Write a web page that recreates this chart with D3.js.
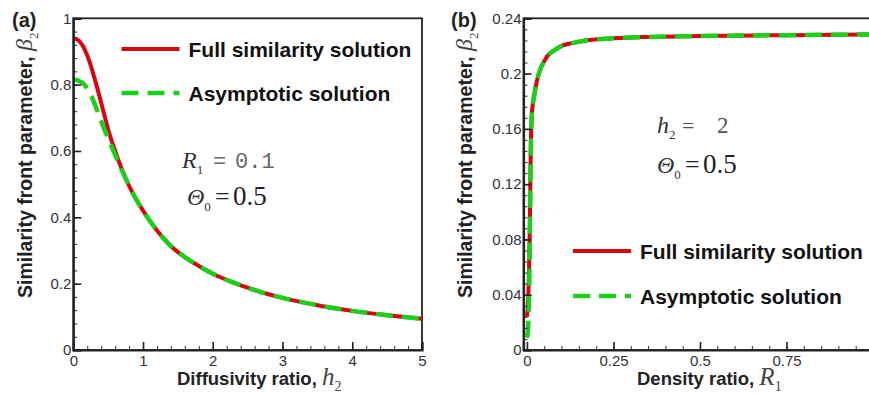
<!DOCTYPE html>
<html><head><meta charset="utf-8">
<script src="https://cdn.jsdelivr.net/npm/d3@7"></script>
<style>html,body{margin:0;padding:0;background:#fff;}svg{display:block;}</style>
</head><body>
<svg id="chart" width="869" height="395"></svg>
<script>
// ---------- data ----------
// Panel (a): beta2 vs diffusivity ratio h2 (R1 = 0.1, Theta0 = 0.5)
const h2Values = [0, 0.05, 0.1, 0.15, 0.2, 0.25, 0.3, 0.35, 0.4, 0.45, 0.5, 0.6, 0.7, 0.8, 0.9, 1.0, 1.2, 1.4, 1.6, 1.8, 2.0, 2.25, 2.5, 2.75, 3.0, 3.5, 4.0, 4.5, 5.0];
const fullA = [0.940, 0.937, 0.928, 0.912, 0.888, 0.858, 0.822, 0.785, 0.745, 0.705, 0.665, 0.600, 0.543, 0.495, 0.455, 0.420, 0.360, 0.313, 0.280, 0.253, 0.230, 0.207, 0.188, 0.171, 0.157, 0.135, 0.118, 0.105, 0.094];
const asymA = [0.815, 0.814, 0.809, 0.802, 0.788, 0.770, 0.745, 0.718, 0.690, 0.663, 0.638, 0.588, 0.540, 0.495, 0.455, 0.420, 0.360, 0.313, 0.280, 0.253, 0.230, 0.207, 0.188, 0.171, 0.157, 0.135, 0.118, 0.105, 0.094];
// Panel (b): beta2 vs density ratio R1 (h2 = 2, Theta0 = 0.5)
const r1Values = [0, 0.002, 0.004, 0.006, 0.008, 0.009, 0.010, 0.011, 0.012, 0.014, 0.017, 0.020, 0.025, 0.030, 0.040, 0.050, 0.060, 0.080, 0.100, 0.130, 0.170, 0.250, 0.350, 0.500, 0.750, 1.000];
const fullB = [0.024, 0.030, 0.040, 0.058, 0.085, 0.105, 0.125, 0.145, 0.158, 0.170, 0.178, 0.183, 0.190, 0.196, 0.204, 0.209, 0.213, 0.217, 0.220, 0.222, 0.224, 0.2255, 0.2265, 0.2272, 0.2278, 0.2283];
const asymB = [0.009, 0.012, 0.020, 0.038, 0.070, 0.095, 0.120, 0.142, 0.156, 0.170, 0.178, 0.183, 0.190, 0.196, 0.204, 0.209, 0.213, 0.217, 0.220, 0.222, 0.224, 0.2255, 0.2265, 0.2272, 0.2278, 0.2283];
// ticks
const xTicksA = [0, 1, 2, 3, 4, 5];
const yTicksA = [0, 0.2, 0.4, 0.6, 0.8, 1];
const xTicksB = [0, 0.25, 0.5, 0.75];
const yTicksB = [0, 0.04, 0.08, 0.12, 0.16, 0.2, 0.24];
const legendLabels = ["Full similarity solution", "Asymptotic solution"];

const RED = "#d8070f", GREEN = "#1bd01b";
const svg = d3.select("#chart");
const defs = svg.append("defs");

function minorRange(a, b, step) {
  const out = [];
  const n = Math.round((b - a) / step);
  for (let i = 0; i <= n; i++) out.push(+(a + i * step).toFixed(6));
  return out;
}

function panel(opt) {
  const g = svg.append("g");
  const x = d3.scaleLinear().domain(opt.xDomain).range(opt.xRange);
  const y = d3.scaleLinear().domain(opt.yDomain).range([350, 18.3]);
  const x0 = opt.xRange[0], x1 = opt.xRange[1], yTop = 18.3, yBot = 350;

  defs.append("clipPath").attr("id", "clip" + opt.id)
    .append("rect").attr("x", x0).attr("y", yTop).attr("width", x1 - x0).attr("height", yBot - yTop);

  g.append("rect").attr("x", x0).attr("y", yTop).attr("width", x1 - x0).attr("height", yBot - yTop)
    .attr("fill", "none").attr("stroke", "#222").attr("stroke-width", 1.8);

  const line = d3.line().x(d => x(d[0])).y(d => y(d[1])).curve(d3.curveMonotoneX);
  const cg = g.append("g").attr("clip-path", "url(#clip" + opt.id + ")");
  cg.append("path").datum(opt.xs.map((v, i) => [v, opt.full[i]]))
    .attr("d", line).attr("fill", "none").attr("stroke", RED).attr("stroke-width", 4);
  cg.append("path").datum(opt.xs.map((v, i) => [v, opt.asym[i]]))
    .attr("d", line).attr("fill", "none").attr("stroke", GREEN).attr("stroke-width", 4.5)
    .attr("stroke-dasharray", "17,9");

  const fontTick = "15px 'Liberation Sans', Arial, sans-serif";
  g.append("g").attr("transform", `translate(0,${yBot})`)
    .call(d3.axisBottom(x).tickValues(opt.xMinor).tickSize(-4).tickFormat(""))
    .call(s => s.select(".domain").remove())
    .selectAll("line").attr("stroke", "#333").attr("stroke-width", 1);
  g.append("g").attr("transform", `translate(${x0},0)`)
    .call(d3.axisLeft(y).tickValues(opt.yMinor).tickSize(-4).tickFormat(""))
    .call(s => s.select(".domain").remove())
    .selectAll("line").attr("stroke", "#333").attr("stroke-width", 1);

  const xa = g.append("g").attr("transform", `translate(0,${yBot})`)
    .call(d3.axisBottom(x).tickValues(opt.xTicks).tickSize(-8).tickPadding(5).tickFormat(d3.format("")));
  const ya = g.append("g").attr("transform", `translate(${x0},0)`)
    .call(d3.axisLeft(y).tickValues(opt.yTicks).tickSize(-8).tickPadding(2).tickFormat(d3.format("")));
  [xa, ya].forEach(a => {
    a.select(".domain").attr("stroke", "#222").attr("stroke-width", 2.2);
    a.selectAll(".tick line").attr("stroke", "#222").attr("stroke-width", 1.6);
    a.selectAll("text").style("font", fontTick).attr("fill", "#333");
  });
  return {g, x, y};
}

panel({id: "A", xDomain: [0, 5], xRange: [73.3, 422], yDomain: [0, 1],
  xs: h2Values, full: fullA, asym: asymA, xTicks: xTicksA, yTicks: yTicksA,
  xMinor: minorRange(0, 5, 0.2), yMinor: minorRange(0, 1, 0.04)});
panel({id: "B", xDomain: [-0.01, 1], xRange: [523.5, 873], yDomain: [0, 0.24],
  xs: r1Values, full: fullB, asym: asymB, xTicks: xTicksB, yTicks: yTicksB,
  xMinor: minorRange(0, 1, 0.05), yMinor: minorRange(0, 0.24, 0.008)});

// ---------- labels ----------
const bold = "'Liberation Sans', Arial, sans-serif";
const serif = "'Liberation Serif', 'Times New Roman', serif";
const mono = "'Liberation Mono', 'Courier New', monospace";

svg.append("text").attr("x", 12).attr("y", 27).text("(a)")
  .style("font", `bold 20px ${bold}`).attr("fill", "#222");
svg.append("text").attr("x", 451).attr("y", 27).text("(b)")
  .style("font", `bold 20px ${bold}`).attr("fill", "#222");

function yTitle(xb) {
  const t = svg.append("text").attr("transform", `translate(${xb},298) rotate(-90)`)
    .style("font", `bold 19.5px ${bold}`).attr("fill", "#222");
  t.append("tspan").text("Similarity front parameter, ");
  t.append("tspan").text("β").style("font", `italic 24px ${serif}`).attr("fill", "#444");
  t.append("tspan").text("2").style("font", `13px ${serif}`).attr("dy", 6).attr("fill", "#444");
}
yTitle(32); yTitle(472);

function xTitle(x0, label, sym, sub) {
  const t = svg.append("text").attr("x", x0).attr("y", 385)
    .style("font", `bold 18.5px ${bold}`).attr("fill", "#222");
  t.append("tspan").text(label);
  t.append("tspan").text(sym).style("font", `italic 25px ${serif}`).attr("fill", "#444");
  t.append("tspan").text(sub).style("font", `14px ${serif}`).attr("dy", 6).attr("fill", "#444");
}
xTitle(177, "Diffusivity ratio, ", "h", "2");
xTitle(637, "Density ratio, ", "R", "1");

function legend(lx, ly1, ly2) {
  const items = [{c: RED, dash: null, y: ly1, w: 4}, {c: GREEN, dash: "17,9", y: ly2, w: 4.5}];
  items.forEach((it, i) => {
    svg.append("line").attr("x1", lx).attr("x2", lx + 58).attr("y1", it.y).attr("y2", it.y)
      .attr("stroke", it.c).attr("stroke-width", it.w).attr("stroke-dasharray", it.dash);
    svg.append("text").attr("x", lx + 67).attr("y", it.y + 7.5).text(legendLabels[i])
      .style("font", `bold 21px ${bold}`).attr("fill", "#111");
  });
}
legend(121.5, 49, 93);
legend(573, 251, 296);

// parameter annotations: symbol, subscript, "=" and value placed separately
function paramLine(x, y, sym, sub, size, eqX, eqFont, valX, val, valFont, valColor) {
  const t = svg.append("text").attr("x", x).attr("y", y).attr("fill", "#333");
  t.append("tspan").text(sym).style("font", `italic ${size}px ${serif}`);
  t.append("tspan").text(sub).style("font", `${Math.round(size * 0.56)}px ${serif}`).attr("dy", 6);
  t.append("tspan").text("=").attr("x", eqX).attr("dy", -6).style("font", eqFont).attr("fill", valColor);
  t.append("tspan").text(val).attr("x", valX).style("font", valFont).attr("fill", valColor);
}
paramLine(182, 168, "R", "1", 24, 213, `22px ${mono}`, 235, "0.1", `22px ${mono}`, "#666");
paramLine(187, 205, "Θ", "0", 24, 215, `26px ${serif}`, 233, "0.5", `27px ${serif}`, "#222");
paramLine(657, 133, "h", "2", 24, 682, `22px ${serif}`, 717, "2", `23px ${serif}`, "#555");
paramLine(657, 173, "Θ", "0", 24, 685, `26px ${serif}`, 703, "0.5", `27px ${serif}`, "#222");
</script>
</body></html>
